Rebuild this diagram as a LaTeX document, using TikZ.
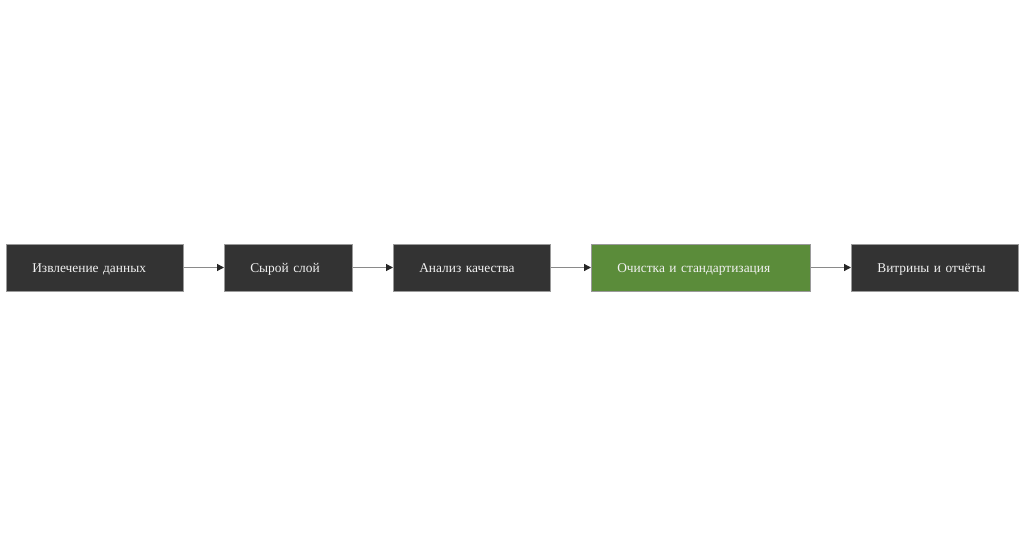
\documentclass[tikz,border=0pt]{standalone}
\usepackage{fontspec}
\setmainfont{Liberation Serif}
\usetikzlibrary{arrows.meta}
\definecolor{boxdark}{HTML}{333333}
\definecolor{boxgreen}{HTML}{5B8C3A}
\definecolor{boxedge}{HTML}{9A9A9A}
\definecolor{txt}{HTML}{F2F2F2}
\definecolor{linegray}{HTML}{8A8A8A}
\tikzset{
  stage/.style={draw=boxedge, line width=0.6pt, fill=boxdark, text=txt,
    minimum height=47pt, inner xsep=26pt, inner ysep=0pt, align=left,
    text height=13pt, text depth=3pt,
    font=\fontsize{13.4}{15}\selectfont, anchor=west},
  flow/.style={draw=linegray, line width=1.2pt,
    -{Triangle[length=7pt,width=7pt,color=black!85]}}
}
\begin{document}
\begin{tikzpicture}[x=1pt,y=1pt]
\useasboundingbox (0,0) rectangle (1024,536);
\node[stage, text width=125pt] (a) at (6,268.5) {Извлечение данных};
\node[stage, text width=76pt] (b) at (224,268.5) {Сырой слой};
\node[stage, text width=105pt] (c) at (393,268.5) {Анализ качества};
\node[stage, fill=boxgreen, text width=167pt] (d) at (591,268.5) {Очистка и стандартизация};
\node[stage, text width=115pt] (e) at (851,268.5) {Витрины и отчёты};
\draw[flow] (a) -- (b);
\draw[flow] (b) -- (c);
\draw[flow] (c) -- (d);
\draw[flow] (d) -- (e);
\end{tikzpicture}
\end{document}
